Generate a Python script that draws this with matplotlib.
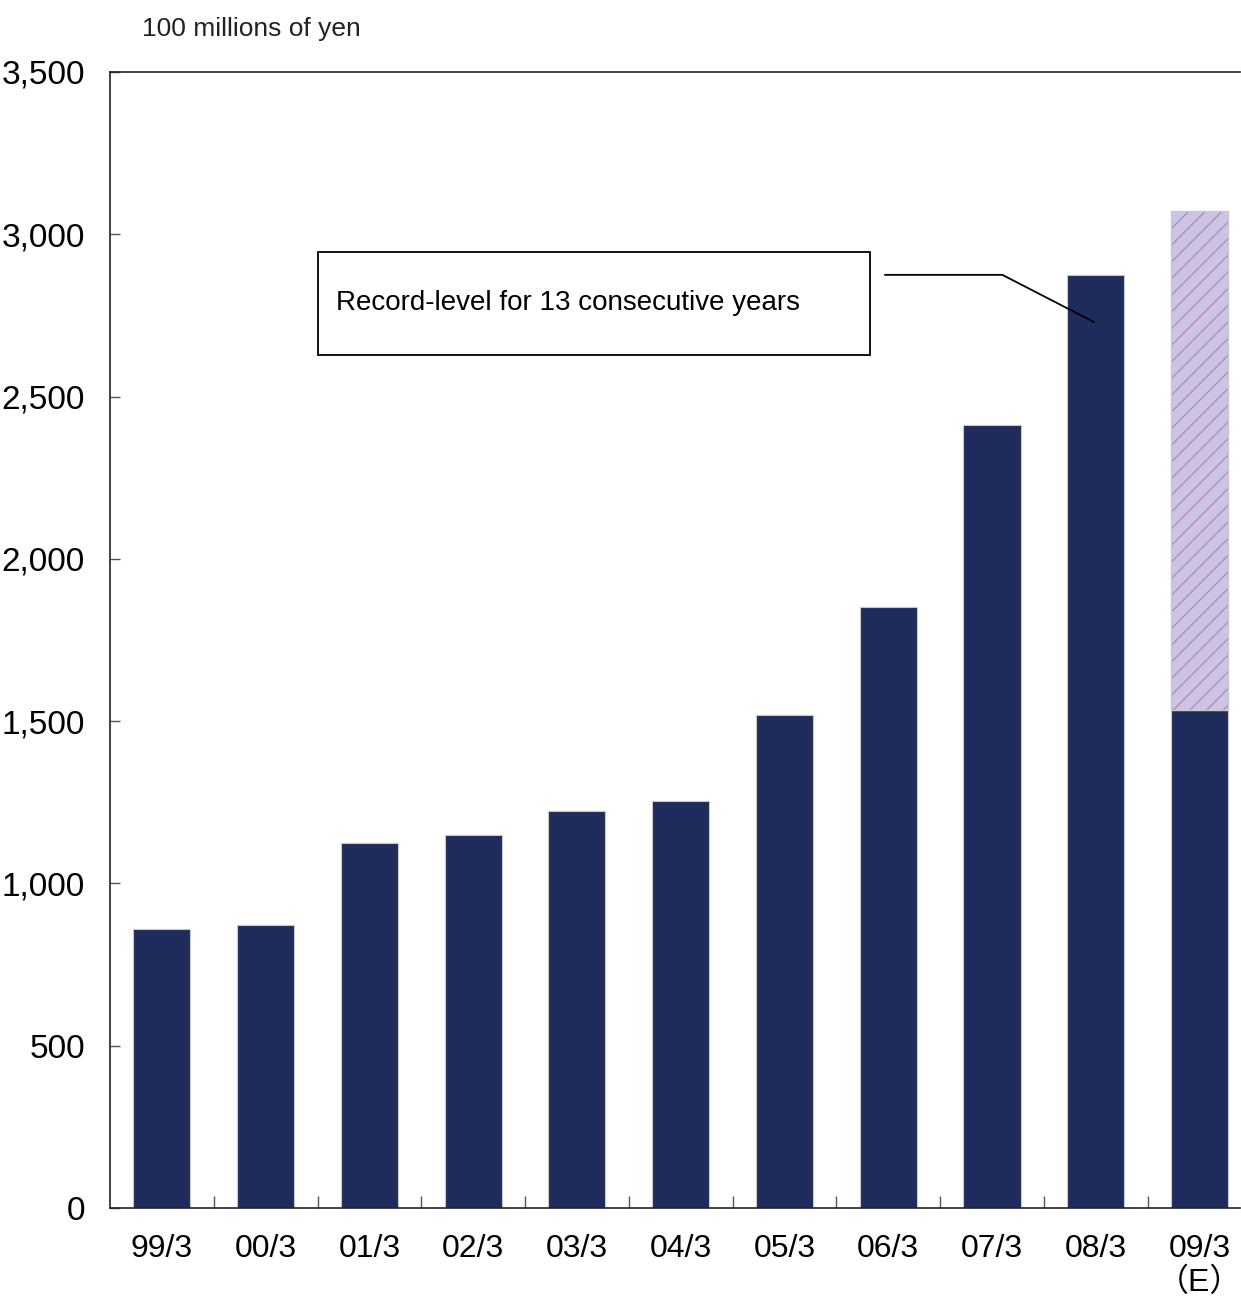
import numpy as np
import matplotlib.pyplot as plt
from matplotlib.patches import Rectangle

plt.rcParams['font.family'] = ['Liberation Sans', 'Noto Sans CJK JP', 'DejaVu Sans']
plt.rcParams['hatch.linewidth'] = 1.0

categories = ['99/3', '00/3', '01/3', '02/3', '03/3', '04/3', '05/3', '06/3', '07/3', '08/3', '09/3\n（E）']
actual = [860, 872, 1124, 1149, 1223, 1254, 1519, 1851, 2412, 2874, 1534]
forecast_total = 3071  # 09/3 estimate, upper part hatched

fig = plt.figure(figsize=(12.41, 13.0), dpi=100)
ax = fig.add_axes([110 / 1241, 1 - 1208 / 1300, 1130 / 1241, (1208 - 72) / 1300])

x = np.arange(len(categories))
navy = '#1f2b5a'
ax.bar(x, actual, width=0.55, color=navy, edgecolor='#c8c8c8', linewidth=0.8, zorder=2)
ax.bar(x[-1], forecast_total - actual[-1], bottom=actual[-1], width=0.55,
       color='#cbc4e2', edgecolor='#b48cc0', hatch='//', linewidth=0, zorder=2)
ax.bar(x[-1], forecast_total - actual[-1], bottom=actual[-1], width=0.55,
       facecolor='none', edgecolor='#c8c8c8', linewidth=1.0, zorder=3)

ax.set_xlim(-0.5, 10.39)
ax.set_ylim(0, 3500)
ax.set_yticks(range(0, 3501, 500))
ax.set_yticklabels([f'{v:,}' for v in range(0, 3501, 500)], fontsize=24)
ax.set_xticks(x)
ax.set_xticklabels(categories, fontsize=23, linespacing=1.15)
ax.set_xticks(np.arange(0.5, len(categories) - 0.5, 1), minor=True)
ax.tick_params(axis='x', which='major', length=0, pad=19)
ax.tick_params(axis='x', which='minor', direction='in', length=9, width=1, color='#555555')
ax.tick_params(axis='y', direction='in', length=7, width=1, color='#555555', pad=18)

ax.spines['right'].set_visible(False)
for s in ['left', 'bottom', 'top']:
    ax.spines[s].set_linewidth(1.2)
    ax.spines[s].set_color('#222222')

fig.text(142 / 1241, 1 - 29 / 1300, '100 millions of yen', fontsize=19, va='center', ha='left',
         color='#222222')

# annotation box and leader line
ax.add_patch(Rectangle((1.50, 2628), 5.32, 317, facecolor='white', edgecolor='black',
                       linewidth=1.3, zorder=4))
ax.text(1.68, 2788, 'Record-level for 13 consecutive years', fontsize=20, va='center', ha='left',
        zorder=5)
ax.plot([6.97, 8.10, 8.98], [2875, 2875, 2730], color='black', linewidth=1.3, zorder=4)

fig.savefig('out.png', dpi=100)
